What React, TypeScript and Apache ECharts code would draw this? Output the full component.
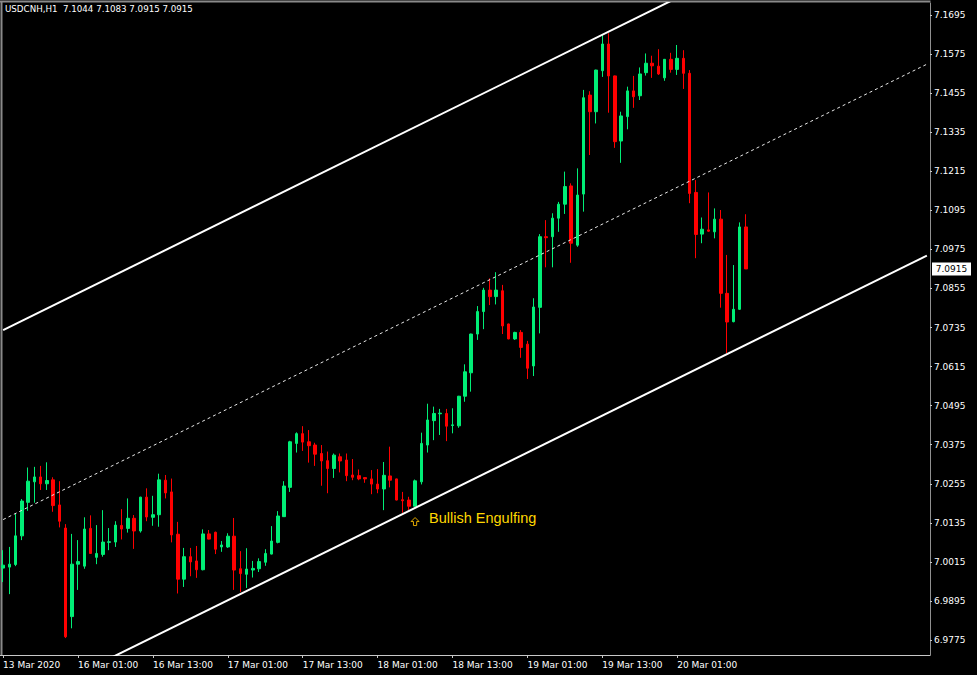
import React, { useEffect, useRef } from 'react';
import * as echarts from 'echarts';

const symbolName = 'USDCNH,H1';
const tickLabels = ['13 Mar 2020', '16 Mar 01:00', '16 Mar 13:00', '17 Mar 01:00', '17 Mar 13:00', '18 Mar 01:00', '18 Mar 13:00', '19 Mar 01:00', '19 Mar 13:00', '20 Mar 01:00'];
const priceTicks = [6.9775, 6.9895, 7.0015, 7.0135, 7.0255, 7.0375, 7.0495, 7.0615, 7.0735, 7.0855, 7.0975, 7.1095, 7.1215, 7.1335, 7.1455, 7.1575, 7.1695];

const opens = [6.9996, 6.9999, 7.0007, 7.0095, 7.0198, 7.0261, 7.0276, 7.0255, 7.0267, 7.0190,
  7.0119, 6.9847, 7.0008, 7.0002, 7.0118, 7.0029, 7.0038, 7.0075, 7.0076, 7.0127,
  7.0118, 7.0149, 7.0110, 7.0214, 7.0152, 7.0160, 7.0266, 7.0230, 7.0100, 6.9962,
  7.0031, 7.0018, 6.9991, 7.0101, 7.0106, 7.0061, 7.0061, 7.0094, 6.9994, 6.9977,
  6.9990, 6.9994, 7.0014, 7.0039, 7.0075, 7.0154, 7.0244, 7.0379, 7.0409, 7.0384,
  7.0374, 7.0348, 7.0326, 7.0302, 7.0338, 7.0328, 7.0282, 7.0280, 7.0274, 7.0270,
  7.0254, 7.0239, 7.0279, 7.0270, 7.0206, 7.0205, 7.0186, 7.0261, 7.0374, 7.0449,
  7.0470, 7.0471, 7.0434, 7.0433, 7.0524, 7.0596, 7.0715, 7.0784, 7.0850, 7.0830,
  7.0848, 7.0746, 7.0700, 7.0720, 7.0684, 7.0617, 7.0797, 7.1014, 7.1014, 7.1071,
  7.1114, 7.1170, 7.0988, 7.1145, 7.1449, 7.1398, 7.1524, 7.1606, 7.1508, 7.1308,
  7.1383, 7.1462, 7.1447, 7.1518, 7.1547, 7.1538, 7.1502, 7.1559, 7.1528, 7.1562,
  7.1516, 7.1150, 7.1022, 7.1035, 7.1029, 7.1068, 7.0840, 7.0753, 7.0791, 7.1044];

const highs = [7.0051, 7.0061, 7.0165, 7.0208, 7.0305, 7.0307, 7.0310, 7.0321, 7.0275, 7.0263,
  7.0131, 7.0101, 7.0082, 7.0152, 7.0158, 7.0128, 7.0174, 7.0119, 7.0140, 7.0177,
  7.0210, 7.0159, 7.0215, 7.0241, 7.0218, 7.0286, 7.0282, 7.0271, 7.0138, 7.0058,
  7.0058, 7.0064, 7.0115, 7.0113, 7.0108, 7.0079, 7.0103, 7.0150, 7.0048, 7.0057,
  7.0018, 7.0026, 7.0054, 7.0125, 7.0171, 7.0263, 7.0387, 7.0413, 7.0432, 7.0420,
  7.0381, 7.0374, 7.0354, 7.0348, 7.0348, 7.0348, 7.0331, 7.0299, 7.0275, 7.0297,
  7.0300, 7.0322, 7.0369, 7.0271, 7.0230, 7.0215, 7.0268, 7.0412, 7.0501, 7.0492,
  7.0485, 7.0485, 7.0487, 7.0525, 7.0622, 7.0716, 7.0801, 7.0857, 7.0886, 7.0905,
  7.0866, 7.0747, 7.0722, 7.0727, 7.0694, 7.0825, 7.1022, 7.1065, 7.1086, 7.1121,
  7.1214, 7.1178, 7.1224, 7.1465, 7.1461, 7.1527, 7.1634, 7.1639, 7.1509, 7.1398,
  7.1475, 7.1508, 7.1534, 7.1577, 7.1570, 7.1590, 7.1560, 7.1579, 7.1603, 7.1587,
  7.1526, 7.1188, 7.1073, 7.1150, 7.1101, 7.1096, 7.0958, 7.0927, 7.1058, 7.1083];

const lows = [6.9953, 6.9916, 7.0002, 7.0082, 7.0172, 7.0197, 7.0236, 7.0236, 7.0169, 7.0121,
  6.9781, 6.9811, 6.9929, 6.9994, 7.0040, 7.0008, 7.0031, 7.0051, 7.0061, 7.0084,
  7.0105, 7.0055, 7.0105, 7.0140, 7.0126, 7.0123, 7.0210, 7.0075, 6.9918, 6.9938,
  6.9971, 6.9966, 6.9989, 7.0084, 7.0039, 7.0046, 7.0058, 6.9929, 6.9923, 6.9935,
  6.9967, 6.9984, 7.0003, 7.0038, 7.0072, 7.0153, 7.0230, 7.0351, 7.0356, 7.0320,
  7.0310, 7.0249, 7.0226, 7.0273, 7.0290, 7.0263, 7.0266, 7.0266, 7.0258, 7.0223,
  7.0226, 7.0174, 7.0244, 7.0204, 7.0166, 7.0174, 7.0185, 7.0253, 7.0351, 7.0389,
  7.0405, 7.0386, 7.0410, 7.0427, 7.0507, 7.0538, 7.0697, 7.0730, 7.0804, 7.0806,
  7.0715, 7.0699, 7.0697, 7.0642, 7.0577, 7.0586, 7.0717, 7.0920, 7.0920, 7.1029,
  7.1084, 7.0934, 7.0983, 7.1091, 7.1265, 7.1362, 7.1505, 7.1395, 7.1287, 7.1241,
  7.1344, 7.1410, 7.1434, 7.1509, 7.1502, 7.1511, 7.1493, 7.1518, 7.1511, 7.1468,
  7.1117, 7.0948, 7.0994, 7.1029, 7.1009, 7.0796, 7.0656, 7.0751, 7.0789, 7.0915];

const closes = [7.0005, 7.0008, 7.0095, 7.0202, 7.0263, 7.0276, 7.0255, 7.0265, 7.0188, 7.0140,
  6.9785, 7.0008, 7.0016, 7.0116, 7.0041, 7.0041, 7.0076, 7.0077, 7.0128, 7.0116,
  7.0149, 7.0110, 7.0214, 7.0153, 7.0160, 7.0267, 7.0227, 7.0098, 6.9962, 7.0031,
  7.0015, 6.9991, 7.0101, 7.0085, 7.0054, 7.0067, 7.0094, 6.9990, 6.9979, 6.9993,
  6.9995, 7.0016, 7.0041, 7.0079, 7.0156, 7.0248, 7.0384, 7.0409, 7.0383, 7.0372,
  7.0346, 7.0325, 7.0302, 7.0343, 7.0325, 7.0280, 7.0275, 7.0270, 7.0270, 7.0254,
  7.0239, 7.0281, 7.0266, 7.0205, 7.0203, 7.0186, 7.0264, 7.0379, 7.0451, 7.0471,
  7.0472, 7.0432, 7.0436, 7.0524, 7.0599, 7.0715, 7.0784, 7.0850, 7.0830, 7.0850,
  7.0740, 7.0700, 7.0720, 7.0674, 7.0610, 7.0798, 7.1014, 7.1011, 7.1071, 7.1114,
  7.1168, 7.0994, 7.1142, 7.1441, 7.1398, 7.1526, 7.1606, 7.1508, 7.1306, 7.1385,
  7.1462, 7.1444, 7.1514, 7.1547, 7.1539, 7.1514, 7.1559, 7.1528, 7.1562, 7.1516,
  7.1147, 7.1021, 7.1037, 7.1031, 7.1068, 7.0840, 7.0752, 7.0791, 7.1044, 7.0915];

// channel lines: [bar index, price]
const upperChannel = [[0, 7.0727], [148, 7.2126]];
const middleChannel = [[0, 7.0145], [148, 7.1544]];
const lowerChannel = [[0, 6.9557], [148, 7.0956]];

const patternBar = 66;
const patternArrowPrice = 7.0139;
const patternTextPrice = 7.0150;
const patternText = 'Bullish Engulfing';

const TOTAL_SLOTS = 149;
const BARS_PER_LABEL = 12;

export default function App() {
  const ref = useRef<HTMLDivElement>(null);

  useEffect(() => {
    document.body.style.margin = '0';
    document.body.style.background = '#000';
    const chart = echarts.init(ref.current!, null, { renderer: 'svg' });
    const categories = Array.from({ length: TOTAL_SLOTS }, (_, i) => String(i));
    const candles = opens.map((o, i) => [o, closes[i], lows[i], highs[i]]);
    const last = opens.length - 1;
    const lastClose = closes[last];
    const fmt = (v: number) => v.toFixed(4);
    const isLabelIdx = (i: number) => i % BARS_PER_LABEL === 0 && i / BARS_PER_LABEL < tickLabels.length;
    const font = 'DejaVu Sans';

    const baseGraphic: any[] = [
      { type: 'line', shape: { x1: 1.5, y1: 1, x2: 1.5, y2: 655 }, style: { stroke: '#8a8a8a', lineWidth: 2 }, silent: true },
      { type: 'line', shape: { x1: 0, y1: 1.5, x2: 930.5, y2: 1.5 }, style: { stroke: '#8a8a8a', lineWidth: 2 }, silent: true },
      {
        type: 'text',
        left: 5,
        top: 4,
        silent: true,
        style: {
          text: `${symbolName}  ${fmt(opens[last])} ${fmt(highs[last])} ${fmt(lows[last])} ${fmt(closes[last])}`,
          fill: '#ffffff',
          font: `8.7px "${font}"`,
        },
      },
    ];

    chart.setOption({
      animation: false,
      backgroundColor: '#000000',
      grid: { left: 0, right: 47, top: 3, bottom: 20, containLabel: false },
      xAxis: {
        type: 'category',
        data: categories,
        boundaryGap: true,
        axisLine: { show: true, lineStyle: { color: '#c8c8c8', width: 1 } },
        axisTick: {
          show: true,
          alignWithLabel: true,
          interval: (i: number) => isLabelIdx(i),
          length: 3,
          lineStyle: { color: '#c8c8c8' },
        },
        axisLabel: {
          interval: (i: number) => isLabelIdx(i),
          formatter: (_v: string, i: number) => (isLabelIdx(i) ? tickLabels[i / BARS_PER_LABEL] : ''),
          align: 'left',
          margin: 5,
          color: '#ffffff',
          fontSize: 9,
          fontFamily: font,
        },
        splitLine: { show: false },
      },
      yAxis: {
        type: 'value',
        position: 'right',
        min: 6.9729,
        max: 7.1732,
        axisLine: { show: true, lineStyle: { color: '#909090', width: 1 } },
        axisTick: { show: true, customValues: priceTicks, length: 2, lineStyle: { color: '#c8c8c8' } },
        axisLabel: {
          customValues: priceTicks,
          formatter: (v: number) => fmt(v),
          color: '#ffffff',
          fontSize: 9,
          fontFamily: font,
          margin: 4,
        },
        splitLine: { show: false },
      },
      series: [
        {
          type: 'candlestick',
          data: candles,
          barWidth: 3,
          z: 2,
          itemStyle: {
            color: '#00EE76',
            color0: '#FF0000',
            borderColor: '#00EE76',
            borderColor0: '#FF0000',
            borderWidth: 1,
          },
          markPoint: {
            silent: true,
            data: [
              {
                coord: [patternBar, patternArrowPrice],
                symbol: 'path://M5,0 L10,5 L7,5 L7,10 L3,10 L3,5 L0,5 Z',
                symbolSize: [8, 8],
                itemStyle: { color: 'transparent', borderColor: '#E0A800', borderWidth: 1 },
                label: { show: false },
              },
              {
                coord: [patternBar, patternTextPrice],
                symbol: 'circle',
                symbolSize: 0,
                label: {
                  show: true,
                  position: 'right',
                  distance: 14,
                  formatter: patternText,
                  color: '#FFD700',
                  fontSize: 14.5,
                  fontFamily: 'Liberation Sans',
                },
              },
            ],
          },
        },
        {
          type: 'line',
          data: upperChannel,
          symbol: 'none',
          silent: true,
          z: 5,
          lineStyle: { color: '#ffffff', width: 2 },
        },
        {
          type: 'line',
          data: middleChannel,
          symbol: 'none',
          silent: true,
          z: 5,
          lineStyle: { color: '#e8e8e8', width: 1, type: [3, 3] },
        },
        {
          type: 'line',
          data: lowerChannel,
          symbol: 'none',
          silent: true,
          z: 5,
          lineStyle: { color: '#ffffff', width: 2 },
        },
      ],
      graphic: baseGraphic,
    });

    const py = chart.convertToPixel({ yAxisIndex: 0 }, lastClose) as number;
    chart.setOption({
      graphic: [
        ...baseGraphic,
        {
          type: 'group',
          silent: true,
          z: 100,
          children: [
            { type: 'rect', shape: { x: 932, y: Math.round(py) - 6.5, width: 39, height: 13 }, style: { fill: '#ffffff' } },
            {
              type: 'text',
              x: 951.5,
              y: Math.round(py),
              style: {
                text: fmt(lastClose),
                fill: '#000000',
                font: `9px "${font}"`,
                align: 'center',
                verticalAlign: 'middle',
              },
            },
          ],
        },
      ],
    });

    return () => chart.dispose();
  }, []);

  return <div ref={ref} style={{ position: 'fixed', left: 0, top: 0, width: 977, height: 675, background: '#000' }} />;
}
